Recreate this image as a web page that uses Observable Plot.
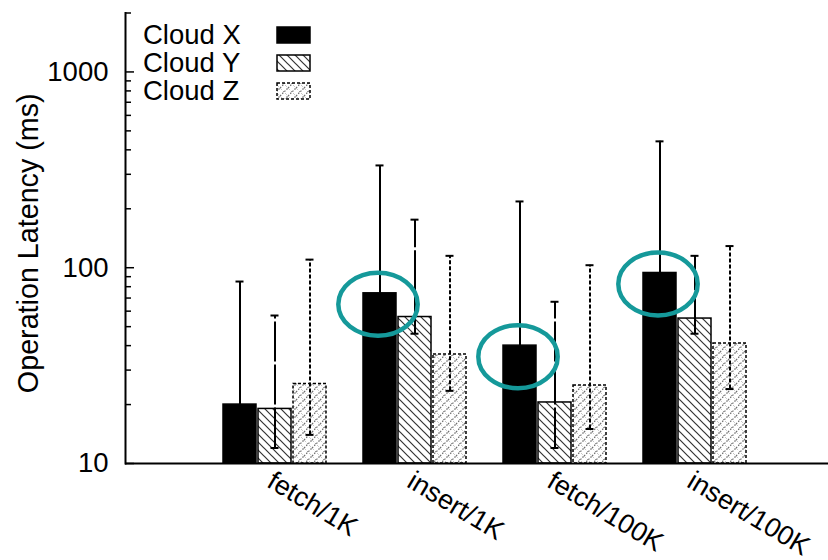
<!DOCTYPE html>
<html><head><meta charset="utf-8">
<script src="https://cdn.jsdelivr.net/npm/d3@7"></script>
<script src="https://cdn.jsdelivr.net/npm/@observablehq/plot@0.6"></script>
<style>body{margin:0;background:#fff}#chart{width:828px;height:560px}</style>
</head><body><div id="chart"></div>
<script>
// ---- data ----
const groups = ["fetch/1K", "insert/1K", "fetch/100K", "insert/100K"];
const clouds = ["Cloud X", "Cloud Y", "Cloud Z"];
const cloudX = [20, 74, 40, 94];
const cloudY = [19, 56, 20.5, 55];
const cloudZ = [25.5, 36, 25, 41];
const cloudXHigh = [85, 333, 218, 442];
const cloudYHigh = [57, 176, 67, 115];
const cloudZHigh = [110, 115, 103, 129];
const cloudYLow = [12, 46, 12, 46];
const cloudZLow = [14, 23.5, 15, 24];
const highlighted = ["insert/1K", "fetch/100K", "insert/100K"];
const yDomain = [10, 2000];
const yMajorTicks = [10, 100, 1000];
const yMinorTicks = [20, 30, 40, 50, 60, 70, 80, 90, 200, 300, 400, 500, 600, 700, 800, 900, 2000];
const yLabel = "Operation Latency (ms)";

// ---- tables built from the arrays ----
const series = [cloudX, cloudY, cloudZ];
const highs = [cloudXHigh, cloudYHigh, cloudZHigh];
const lows = [null, cloudYLow, cloudZLow];
const keyOf = (g, c) => g + "|" + c;
const rows = groups.flatMap((g, i) => clouds.map((c, j) => ({
  group: g, cloud: c, key: keyOf(g, c), value: series[j][i], hi: highs[j][i],
  lo: lows[j] ? lows[j][i] : series[j][i], hasLow: !!lows[j]
})));
const xDomain = groups.flatMap((g, i) => [...clouds.map(c => keyOf(g, c)), ...(i < groups.length - 1 ? ["gap" + i] : [])]);

const FONT = "'Liberation Sans', Arial, Helvetica, sans-serif";
const styles = {
  "Cloud X": {fill: "black", stroke: "black", dash: null, errDash: null},
  "Cloud Y": {fill: "url(#hatchY)", stroke: "black", dash: null, errDash: "40,3"},
  "Cloud Z": {fill: "url(#hatchZ)", stroke: "black", dash: "3,2", errDash: "4,2"}
};

const ellipse = {
  draw(context, size) {
    const r = Math.sqrt(size / Math.PI), rx = r * 1.26, ry = r, k = 0.5523;
    context.moveTo(rx, 0);
    context.bezierCurveTo(rx, ry * k, rx * k, ry, 0, ry);
    context.bezierCurveTo(-rx * k, ry, -rx, ry * k, -rx, 0);
    context.bezierCurveTo(-rx, -ry * k, -rx * k, -ry, 0, -ry);
    context.bezierCurveTo(rx * k, -ry, rx, -ry * k, rx, 0);
    context.closePath();
  }
};

function defsAndLegend(index, scales, values, dims) {
  const g = d3.create("svg:g");
  const defs = g.append("defs");
  const pY = defs.append("pattern").attr("id", "hatchY").attr("patternUnits", "userSpaceOnUse").attr("width", 8).attr("height", 8);
  pY.append("rect").attr("width", 8).attr("height", 8).attr("fill", "white");
  pY.append("path").attr("d", "M-2,-2L10,10M-2,6L2,10M6,-2L10,2").attr("stroke", "#333").attr("stroke-width", 1.2);
  const pZ = defs.append("pattern").attr("id", "hatchZ").attr("patternUnits", "userSpaceOnUse").attr("width", 8).attr("height", 8);
  pZ.append("rect").attr("width", 8).attr("height", 8).attr("fill", "white");
  pZ.append("path").attr("d", "M-2,10L10,-2M-2,2L2,-2M6,10L10,6").attr("stroke", "#666").attr("stroke-width", 1.2).attr("stroke-dasharray", "1.5,1.5");
  pZ.append("path").attr("d", "M-2,-2L10,10").attr("stroke", "#999").attr("stroke-width", 1).attr("stroke-dasharray", "1.5,2");
  const lg = g.append("g");
  clouds.forEach((c, i) => {
    const base = 44 + i * 28;
    lg.append("text").attr("x", 143).attr("y", base)
      .attr("fill", "black").attr("text-anchor", "start")
      .style("font-family", FONT).style("font-size", "27.5px")
      .text(c);
    const s = styles[c];
    lg.append("rect").attr("x", 277).attr("y", base - 17).attr("width", 33).attr("height", 16)
      .attr("fill", s.fill).attr("stroke", s.stroke).attr("stroke-width", 1.5)
      .attr("stroke-dasharray", s.dash);
  });
  return g.node();
}

const marks = [];
clouds.forEach((c, j) => {
  const d = rows.filter(r => r.cloud === c);
  const s = styles[c];
  marks.push(Plot.barY(d, {x: "key", y1: yDomain[0], y2: "value", fill: s.fill, stroke: s.stroke, strokeWidth: 1.5, strokeDasharray: s.dash}));
});
clouds.forEach((c, j) => {
  const d = rows.filter(r => r.cloud === c);
  const s = styles[c];
  marks.push(Plot.ruleX(d, {x: "key", y1: "lo", y2: "hi", stroke: "black", strokeWidth: 2, strokeDasharray: s.errDash}));
  marks.push(Plot.tickY(d, {x: "key", y: "hi", stroke: "black", strokeWidth: 2, insetLeft: 12.5, insetRight: 12.5}));
  marks.push(Plot.tickY(d.filter(r => r.hasLow), {x: "key", y: "lo", stroke: "black", strokeWidth: 2, insetLeft: 12.5, insetRight: 12.5}));
});
marks.push(
  Plot.ruleY(yDomain.slice(0, 1), {stroke: "black", strokeWidth: 2}),
  Plot.frame({anchor: "left", stroke: "black", strokeWidth: 2}),
  Plot.axisY(yMinorTicks, {tickSize: 6, dx: 6, fill: "none", label: null, strokeWidth: 1.5}),
  Plot.axisY(yMajorTicks, {tickSize: 9, dx: 9, fill: "none", label: null, strokeWidth: 1.5}),
  Plot.axisY(yMajorTicks, {tickSize: 0, tickPadding: 17, tickFormat: d => String(d), label: null}),
  Plot.axisX(groups.map(g => keyOf(g, clouds[1])), {tickSize: 0, tickPadding: 15, dx: -5, tickRotate: 31, fontSize: 27, tickFormat: k => k.split("|")[0], label: null}),
  Plot.text([yLabel], {text: d => d, frameAnchor: "left", rotate: -90, dx: -97, dy: 5, textAnchor: "middle", lineAnchor: "middle", fontSize: 28.7}),
  Plot.dot(rows.filter(r => r.cloud === clouds[0] && highlighted.includes(r.group)),
    {x: "key", y: "value", r: 31.5, symbol: ellipse, fill: "none", stroke: "#15999a", strokeWidth: 4.5, dx: -2, dy: 11}),
  defsAndLegend
);

const chart = Plot.plot({
  width: 828, height: 560,
  marginLeft: 125, marginRight: 0, marginTop: 12.5, marginBottom: 97,
  style: {fontFamily: FONT, fontSize: "27.5px", color: "black", background: "white"},
  x: {type: "band", domain: xDomain, paddingInner: 0.07, paddingOuter: 2.35, align: 0.544, axis: null},
  y: {type: "log", domain: yDomain, axis: null},
  marks
});
document.getElementById("chart").appendChild(chart);
</script>
</body></html>
